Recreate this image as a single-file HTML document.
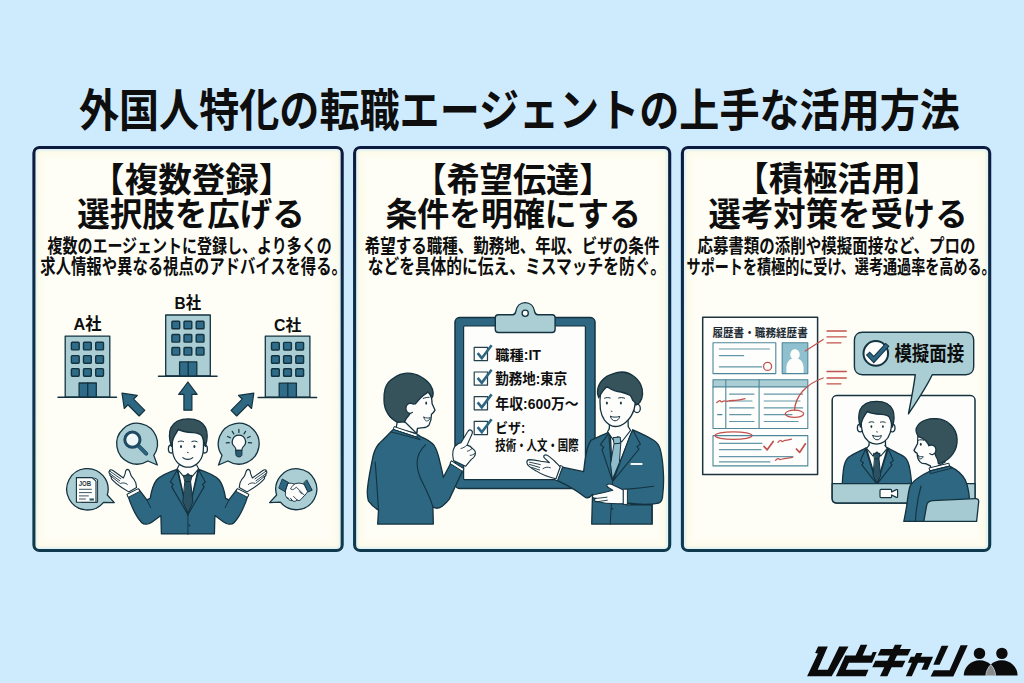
<!DOCTYPE html>
<html lang="ja">
<head>
<meta charset="utf-8">
<title>外国人特化の転職エージェントの上手な活用方法</title>
<style>
*{margin:0;padding:0;box-sizing:border-box}
html,body{width:1024px;height:683px;overflow:hidden;background:#ceebfe;font-family:"Liberation Sans","Noto Sans CJK JP",sans-serif}
#stage{position:relative;width:1024px;height:683px;background:#ceebfe}
.panel{position:absolute;top:146px;height:406px;background:#fefef7;border-radius:7px;box-shadow:inset 0 0 2px 5px rgba(222,241,247,.85),inset 0 0 7px 9px rgba(252,250,228,.9)}
#pn1{left:32.4px;width:311.4px}
#pn2{left:353px;width:318.3px}
#pn3{left:680.8px;width:310.5px}
#art{position:absolute;left:0;top:0;width:1024px;height:683px}
.t{position:absolute;color:transparent;white-space:nowrap;overflow:hidden;line-height:1;font-weight:bold;font-family:"Liberation Sans","Noto Sans CJK JP",sans-serif}
#txt text{font-family:"Liberation Sans","Noto Sans CJK JP",sans-serif;font-weight:bold;fill:#0e0e0e}
</style>
</head>
<body>
<div id="stage">
<header><h1 class="t" style="left:80.7px;top:88.2px;width:877.7px;height:43.4px;font-size:41.2px">外国人特化の転職エージェントの上手な活用方法</h1></header>
<section class="panel" id="pn1">
<h2 class="t" style="left:80.8px;top:16.6px;width:157.0px;height:32.3px;font-size:30.7px">【複数登録】</h2>
<h2 class="t" style="left:45.6px;top:51.8px;width:222.8px;height:31.6px;font-size:30.0px">選択肢を広げる</h2>
<p class="t" style="left:15.2px;top:90.2px;width:283.0px;height:18.4px;font-size:17.5px">複数のエージェントに登録し、より多くの</p>
<p class="t" style="left:8.3px;top:110.4px;width:296.3px;height:19.2px;font-size:18.2px">求人情報や異なる視点のアドバイスを得る。</p>
<span class="t" style="left:41.0px;top:170.4px;width:27.8px;height:14.9px;font-size:14.2px">A社</span>
<span class="t" style="left:46.4px;top:334.6px;width:12.4px;height:5.6px;font-size:5.3px">JOB</span>
<span class="t" style="left:142.3px;top:149.2px;width:26.3px;height:15.4px;font-size:14.6px">B社</span>
<span class="t" style="left:241.6px;top:172.0px;width:27.2px;height:14.6px;font-size:13.9px">C社</span>
</section>
<section class="panel" id="pn2">
<h2 class="t" style="left:82.3px;top:16.6px;width:155.3px;height:32.3px;font-size:30.7px">【希望伝達】</h2>
<h2 class="t" style="left:33.3px;top:51.8px;width:250.7px;height:31.6px;font-size:30.0px">条件を明確にする</h2>
<p class="t" style="left:12.1px;top:90.0px;width:293.7px;height:18.6px;font-size:17.7px">希望する職種、勤務地、年収、ビザの条件</p>
<p class="t" style="left:15.7px;top:110.6px;width:287.0px;height:19.0px;font-size:18.1px">などを具体的に伝え、ミスマッチを防ぐ。</p>
<span class="t" style="left:142.3px;top:201.6px;width:45.7px;height:13.2px;font-size:12.5px">職種:IT</span>
<span class="t" style="left:142.3px;top:225.7px;width:72.0px;height:14.0px;font-size:13.3px">勤務地:東京</span>
<span class="t" style="left:142.3px;top:250.2px;width:83.4px;height:13.8px;font-size:13.1px">年収:600万〜</span>
<span class="t" style="left:142.3px;top:274.9px;width:29.9px;height:13.1px;font-size:12.4px">ビザ:</span>
<span class="t" style="left:142.3px;top:291.8px;width:83.4px;height:14.0px;font-size:13.3px">技術・人文・国際</span>
</section>
<section class="panel" id="pn3">
<h2 class="t" style="left:76.3px;top:16.2px;width:160.4px;height:32.3px;font-size:30.7px">【積極活用】</h2>
<h2 class="t" style="left:28.4px;top:51.8px;width:254.4px;height:31.6px;font-size:30.0px">選考対策を受ける</h2>
<p class="t" style="left:16.9px;top:90.2px;width:276.5px;height:18.4px;font-size:17.5px">応募書類の添削や模擬面接など、プロの</p>
<p class="t" style="left:6.6px;top:110.6px;width:298.9px;height:19.0px;font-size:18.1px">サポートを積極的に受け、選考通過率を高める。</p>
<span class="t" style="left:31.6px;top:181.2px;width:95.4px;height:11.2px;font-size:10.6px">履歴書・職務経歴書</span>
<span class="t" style="left:213.6px;top:197.6px;width:69.9px;height:19.6px;font-size:18.6px">模擬面接</span>
</section>
<svg id="art" aria-hidden="true" width="1024" height="683" viewBox="0 0 1024 683">
<defs><linearGradient id="bd" x1="0" y1="146" x2="0" y2="552" gradientUnits="userSpaceOnUse"><stop offset="0" stop-color="#0c1b40"/><stop offset=".35" stop-color="#0e2c49"/><stop offset="1" stop-color="#0f3a4e"/></linearGradient></defs>
<g fill="none" stroke="url(#bd)" stroke-width="3.1"><rect x="33.9" y="147.5" width="308.3" height="403" rx="5.6"/><rect x="354.6" y="147.5" width="315.1" height="403" rx="5.6"/><rect x="682.4" y="147.5" width="307.3" height="403" rx="5.6"/></g>
<g id="p1" stroke="#14323f" stroke-width="1.3" stroke-linejoin="round" stroke-linecap="round" fill="none">
<defs><g id="bld"><rect x="0.7" y="0.7" width="44.6" height="61" fill="#aaced4"/><rect x="6.9" y="6.9" width="7.8" height="7.6" rx=".9" fill="#2e6c8a" stroke-width="1.4"/><rect x="19.0" y="6.9" width="7.8" height="7.6" rx=".9" fill="#2e6c8a" stroke-width="1.4"/><rect x="31.2" y="6.9" width="7.8" height="7.6" rx=".9" fill="#2e6c8a" stroke-width="1.4"/><rect x="6.9" y="20.2" width="7.8" height="7.6" rx=".9" fill="#2e6c8a" stroke-width="1.4"/><rect x="19.0" y="20.2" width="7.8" height="7.6" rx=".9" fill="#2e6c8a" stroke-width="1.4"/><rect x="31.2" y="20.2" width="7.8" height="7.6" rx=".9" fill="#2e6c8a" stroke-width="1.4"/><rect x="6.9" y="33.2" width="7.8" height="7.6" rx=".9" fill="#2e6c8a" stroke-width="1.4"/><rect x="19.0" y="33.2" width="7.8" height="7.6" rx=".9" fill="#2e6c8a" stroke-width="1.4"/><rect x="31.2" y="33.2" width="7.8" height="7.6" rx=".9" fill="#2e6c8a" stroke-width="1.4"/><rect x="14.6" y="47.6" width="17.2" height="14.2" fill="#2e6c8a"/><path d="M23.2 47.6V61.8"/><path d="M-6.5 61.9H52" stroke-width="1.5"/></g><path id="arw" d="M0 0L9.2 12.4H4V28.2H-4V12.4H-9.2Z" fill="#2d6781" stroke-width="1.2"/></defs>
<use href="#bld" x="64.5" y="335.4"/><use href="#bld" x="165" y="314.3"/><use href="#bld" x="264.6" y="335.5"/>
<use href="#arw" transform="translate(187.9 382)"/>
<use href="#arw" transform="translate(122 393.2) rotate(-45)"/>
<use href="#arw" transform="translate(253.8 393.2) rotate(45)"/>
<path d="M153.8 455.4L157.3 465.0L147.9 461.0A20.4 20.4 0 1 1 153.8 455.4Z" fill="#aaced4"/>
<path d="M227.9 461.0L218.5 465.0L222.0 455.4A20.4 20.4 0 1 1 227.9 461.0Z" fill="#aaced4"/>
<path d="M107.3 495.0L114.3 502.6L103.5 502.3A20.7 20.7 0 1 1 107.3 495.0Z" fill="#aaced4"/>
<path d="M280.4 502.2L269.6 502.6L276.6 495.0A20.5 20.5 0 1 1 280.4 502.2Z" fill="#aaced4"/>
<path d="M138 445.4L146.2 453.6" stroke="#1d4a62" stroke-width="4"/><path d="M138 445.4L146.2 453.6" stroke="#2d6781" stroke-width="2.2"/><circle cx="132.4" cy="439.7" r="7.6" fill="#eef6f7" stroke="#1d4a62" stroke-width="3"/><path d="M128.2 438.2A4.6 4.6 0 0 1 131.6 435.2" stroke="#fff" stroke-width="1.2"/>
<path d="M238.9 435.2a6.6 6.6 0 0 1 4.2 11.7c-.9.9-1.2 2-1.2 3.4h-6c0-1.4-.3-2.5-1.2-3.4a6.6 6.6 0 0 1 4.2-11.7Z" fill="#fdfdfb" stroke-width="1.2"/><path d="M235.9 450.3h6v4.4c0 1.3-1.2 2.2-3 2.2s-3-.9-3-2.2Z" fill="#2d5c70" stroke-width="1"/>
<path d="M238.9 432.4L238.9 429.4M244.0 433.9L245.6 431.3M233.8 433.9L232.2 431.3M247.5 437.8L250.2 436.5M230.3 437.8L227.6 436.5M248.5 442.7L251.5 442.9M229.3 442.7L226.3 442.9" stroke-width="1.2"/>
<path d="M79.4 478.2h15.2l3 1.4v22.8H81.8Z" fill="#fdfdfb" stroke-width="1"/><path d="M76.4 477.6h15.6l4 3.6v21H76.4Z" fill="#fdfdfb" stroke-width="1.1"/><path d="M79.4 489.3h12M79.4 492.6h12M79.4 495.9h9M79.4 499h6" stroke-width="1" stroke="#3a5563"/><path d="M89.5 498.4h4.4v2.2h-4.4Z" fill="#2d5c70" stroke="none"/>
<path d="M282.6 479.2L288.6 482.6L285 491.6L279.200 488.300Z" fill="#2d6781" stroke-width="1"/>
<path d="M306.900 480.200L312.200 490.200L307.800 492L303.800 483.400Z" fill="#2d6781" stroke-width="1"/>
<path d="M288.200 483.400C290.500 483 292.500 483.200 294.200 484.200C296.500 483 299.500 482.800 302 483.600L304.200 484.400L307.600 491.600C306.800 493.200 305.800 494.400 304.600 495.400L300.800 499.600C299.600 500.800 298.200 500.800 297.200 500L295.600 501C294.400 501.600 293.200 501.400 292.400 500.600L290.800 500.400C289.600 500.400 288.800 499.800 288.400 498.800C287.200 498.600 286.400 497.800 286.200 496.600C285.400 495.800 285.200 494.800 285.600 493.800L285.400 491.400Z" fill="#fdfdfb" stroke-width="1"/><path d="M294.200 484.200C292.600 485.600 291.400 487.200 290.600 489C291.800 490 293.400 489.800 294.600 488.600L296.400 487.200L304.600 495.400M297.200 500L293.600 496.400M292.400 500.600L290.400 498.200M288.400 498.800L287.600 497.400M299.400 491.600L301.800 494" stroke-width=".9"/>
</g><g id="p1man" stroke="#14323f" stroke-width="1.3" stroke-linejoin="round" stroke-linecap="round" fill="none">
<path d="M180.4 461V474H195.4V461Z" fill="#fdfdfb"/>
<path d="M178 469.5L187.9 479.5L197.8 469.5L200 500H176Z" fill="#fdfdfb" stroke="none"/>
<path d="M177.6 469.2 C168 472.5 160 476 156.6 480 C152.8 485 151.2 492 150.2 498.4 L146.9 499.9 L138.7 489.2 L127.5 494.6 C130.5 504 136 516.5 141.8 522.8 C144.5 525.2 149 524.2 152.2 522 L160.9 515.6 L161.4 533.9 L187.9 533.9 L187.9 514.6 Z" fill="#2d6781"/>
<path d="M198.2 469.2C207.8 472.5 215.8 476 219.2 480C223 485 224.6 492 225.6 498.4L228.9 499.9L237.1 489.2L248.3 494.6C245.3 504 239.8 516.5 234 522.8C231.3 525.2 226.8 524.2 223.6 522L214.9 515.6L214.4 533.9L187.9 533.9L187.9 514.6Z" fill="#2d6781"/>
<path d="M187.9 515.6V533.2" stroke="#2d6781" stroke-width="2.6" stroke-linecap="butt"/>
<path d="M187.9 514.6V533.9" stroke="#14323f" stroke-width=".9"/>
<path d="M177.6 469.2 L170.4 482 L173.4 484.6 L171.6 486.6 L187.9 514.6 L177.4 471 Z" fill="#2d6781" stroke-width="1.1"/>
<path d="M198.2 469.2L205.4 482L202.4 484.6L204.2 486.6L187.9 514.6L198.4 471Z" fill="#2d6781" stroke-width="1.1"/>
<path d="M179.400 464.600L177.200 468.800L184.200 477.200L187.900 473.600L191.600 477.200L198.600 468.800L196.400 464.600" fill="#fdfdfb" stroke-width="1.1"/>
<path d="M183.8 475.4H192L190.6 481.6H185.2Z" fill="#2b5263" stroke-width="1"/>
<path d="M185.2 481.6H190.6L192.9 502L187.9 513.2L182.9 502Z" fill="#2b5263" stroke-width="1"/>
<circle cx="189.4" cy="525.4" r=".9" fill="#14323f" stroke="none"/>
<path d="M146.9 499.9L150.6 507.6" stroke-width="1"/><path d="M228.9 499.9L225.2 507.6" stroke-width="1"/>
<path d="M127.2 494.2 L138.4 488.6 L139.8 491.4 L128.6 497.2 Z" fill="#fdfdfb" stroke-width="1"/>
<path d="M248.6 494.2L237.4 488.6L236 491.4L247.2 497.2Z" fill="#fdfdfb" stroke-width="1"/>
<path d="M128.7 491.9 L121.7 487.5 C118 485 114.6 482.2 112.4 479.8 C111 478.8 110.8 477.4 111.8 476.8 C110 476.200 109.200 474.800 110.200 473.900 C108.800 473.200 108.400 471.800 109.600 471 C109.600 469.800 111 469.400 112.600 470.200 L123.400 478 L125.200 473.600 C125.400 471 126.200 469.600 127.400 469.400 C128.800 469.400 129.600 470.600 130.200 473 L131.400 476.200 C133 478 135 480.400 135.800 482.800 L136.600 487.600 Z" fill="#fdfdfb" stroke-width="1.1"/>
<path d="M111.800 476.800 L119.400 482.800 M110.200 473.900 L119.800 480.800 M109.600 471 L120.800 478.800 M120.600 483.400 C123 482.400 125.600 482.800 127.400 484.400" stroke-width=".9"/>
<path d="M247.1 491.9L254.1 487.5C257.8 485 261.2 482.2 263.4 479.8C264.8 478.8 265 477.4 264 476.8C265.8 476.2 266.6 474.8 265.6 473.9C267 473.2 267.4 471.8 266.2 471C266.2 469.8 264.8 469.4 263.2 470.2L252.4 478L250.6 473.6C250.4 471 249.6 469.6 248.4 469.4C247 469.4 246.2 470.6 245.6 473L244.4 476.2C242.8 478 240.8 480.4 240 482.8L239.2 487.6Z" fill="#fdfdfb" stroke-width="1.1"/>
<path d="M264 476.8L256.4 482.8M265.6 473.9L256 480.8M266.2 471L255 478.8M255.2 483.4C252.8 482.4 250.2 482.8 248.4 484.4" stroke-width=".9"/>
<ellipse cx="171.200" cy="449" rx="2.800" ry="4" fill="#fdfdfb"/><ellipse cx="204.600" cy="449" rx="2.800" ry="4" fill="#fdfdfb"/>
<path d="M172.4 440 C172.2 445 172.200 449 172.800 453 C173.600 457.500 175.500 460.800 178.400 463.400 C181.500 466 185 467.200 187.900 467.200 C190.800 467.200 194.300 466 197.400 463.400 C200.300 460.800 202.200 457.500 203 453 C203.600 449 203.600 445 203.400 440 C203 430 196 425.500 187.900 425.500 C179.800 425.500 172.800 430 172.400 440 Z" fill="#fdfdfb"/>
<path d="M171.4 446.4 C169.400 440 168.400 433 171 427.600 C174 421.600 181 418.800 188.400 418.800 C196 418.800 202.600 421.600 205.400 427.400 C207.800 432.400 207.400 440 205.400 446.400 C204.200 442 203.600 438.800 201.800 435.800 C199.600 433.600 196.400 432.800 193 432.600 C188 432.400 182.400 432 178.400 429.400 C176.800 432.400 174.600 435 173.400 438.400 C172.400 441.400 172 444 171.400 446.400 Z" fill="#36525a"/>
<ellipse cx="181" cy="446.4" rx="1" ry="1.5" fill="#14323f" stroke="none"/><ellipse cx="194.4" cy="446.4" rx="1" ry="1.5" fill="#14323f" stroke="none"/>
<path d="M178.200 441.800C179.800 440.800 182 440.800 183.600 441.600M191.800 441.600C193.400 440.800 195.600 440.800 197.200 441.800" stroke-width="1"/>
<path d="M187.400 452.400L188.200 452.600" stroke-width=".9"/>
<path d="M182.800 457.600C185.600 460 190 460 192.800 457.600" stroke-width="1.1"/>
</g>
<g id="p2" stroke="#14323f" stroke-width="1.3" stroke-linejoin="round" stroke-linecap="round" fill="none">
<rect x="455" y="317.6" width="140" height="170.8" rx="4.5" fill="#2d6781" stroke-width="1.5"/>
<rect x="463.6" y="326" width="121.8" height="153.6" rx="1" fill="#fdfdfb" stroke-width="1.2"/>
<path d="M498.3 314.8H512.6C514.8 314.8 515.4 313.6 515.8 311.4C516.6 306 520.4 302.6 525.2 302.6C530 302.6 533.8 306 534.6 311.4C535 313.600 535.600 314.800 537.800 314.800H552.100C554 314.800 555.100 316 555.100 317.800V329.600C555.100 331.400 554 332.500 552.100 332.500H498.300C496.400 332.500 495.300 331.400 495.300 329.600V317.800C495.300 316 496.400 314.800 498.300 314.800Z" fill="#aaced4" stroke-width="1.4"/>
<circle cx="525.2" cy="313.2" r="3.1" fill="#fdfdfb" stroke-width="1.3"/>
<rect x="474.2" y="347.4" width="13.3" height="13.2" fill="#fdfdfb" stroke-width="1.2" stroke="#24404d"/>
<path d="M477.6 353.2L481.8 358.2L491.6 345.2" stroke="#2c6683" stroke-width="2.6" stroke-linecap="butt" stroke-linejoin="miter"/>
<rect x="474.2" y="372.0" width="13.3" height="13.2" fill="#fdfdfb" stroke-width="1.2" stroke="#24404d"/>
<path d="M477.6 377.8L481.8 382.8L491.6 369.8" stroke="#2c6683" stroke-width="2.6" stroke-linecap="butt" stroke-linejoin="miter"/>
<rect x="474.2" y="396.6" width="13.3" height="13.2" fill="#fdfdfb" stroke-width="1.2" stroke="#24404d"/>
<path d="M477.6 402.4L481.8 407.4L491.6 394.4" stroke="#2c6683" stroke-width="2.6" stroke-linecap="butt" stroke-linejoin="miter"/>
<rect x="474.2" y="421.4" width="13.3" height="13.2" fill="#fdfdfb" stroke-width="1.2" stroke="#24404d"/>
<path d="M477.6 427.2L481.8 432.2L491.6 419.2" stroke="#2c6683" stroke-width="2.6" stroke-linecap="butt" stroke-linejoin="miter"/>
<path d="M397.6 420L396 428.6L416.6 433.4L417.600 426Z" fill="#fdfdfb"/>
<path d="M393.7 429.3 C389 433.500 385.300 437.700 381.500 441.200 C377.500 444.500 374.800 449 373.200 455.500 C371 466 368.600 478 367.600 487.400 C367 493 367.400 497.500 368.400 500.800 C371 504.500 375 508 378.500 510.100 L377.700 524.100 L433.300 524.100 L432.900 506.900 C435.500 508.600 439.500 508.400 442.500 505.900 C445 504 447.500 501.500 449.300 499.100 L463.600 468.800 L451.800 461.300 L443.400 477.300 C442 470 440.500 465 439.200 459 C437.800 453 436.500 449 434.100 445.500 C431 441.500 426 438.800 420.600 436.600 L417.300 434.300 Z" fill="#2d6781"/>
<path d="M394.5 426.7L417.3 434.3L416.9 437.2L393.7 429.6Z" fill="#fdfdfb" stroke-width="1"/>
<path d="M393.7 429.6L416.900 437.200L420.600 439.800C412 437.500 400 434 391.200 432Z" fill="#2d6781" stroke-width="1"/>
<path d="M425.700 444.600C420 450 417.300 456 417.100 462C417 469 419 476 422.500 482.500C426 489.500 430 497 432.900 506.900" stroke-width="1.1"/>
<path d="M375.200 462.100C376.500 478 377.500 495 378.500 510.100" stroke-width="1.1"/>
<path d="M451.600 461L463.900 468.800L462.600 471.400L450.300 463.600Z" fill="#fdfdfb" stroke-width="1"/>
<path d="M453.500 460.400 C452.600 457 452.400 453.500 453.100 450.300 C454 447.500 456 445 458.500 443.600 L461 442.700 L467.600 431.800 C468.500 430.200 470 429.600 471.200 430.200 C472.500 431 472.700 432.400 472 434 L467.100 445.100 C469.500 445.600 471.300 446.800 472.400 448.600 C474.500 449.800 475.600 451.600 475.400 453.700 C475.200 456 473.500 458 471.100 459.600 L465.500 466.300 Z" fill="#fdfdfb" stroke-width="1.1"/>
<path d="M466.900 445.300C465 447 463 448 461 448.500M472 448.600C470.500 450 469 450.800 467.400 451.200M475 453.400C473.400 454.600 471.800 455.200 470.200 455.400" stroke-width=".9"/>
<path d="M428 391.500 C430.500 394 432 398 432.100 403.700 L435 410.100 C434 412 433 413 431.500 414.200 C431.500 418 430.800 421.500 429.100 424.800 C427.500 426.800 425.500 427.700 423.300 427.700 L417.400 428.300 L416.600 433.400 L404 421 L408 400 Z" fill="#fdfdfb"/>
<path d="M397.500 422.400 C393 420 389.800 417 388.100 414.200 C385.500 410 384 405 384 400.200 C383.800 396 384.200 392 385.200 388.400 C387 383.500 390 380 394 377.900 C398 375 402.500 373.400 406.900 373.200 C412 373 417 374.500 420.900 376.700 C425 379 428.500 381.800 430.300 384.900 C432 387.500 433 390.500 433.200 393.100 C433.200 395 432.800 396.500 432.100 397.800 C431.200 395.500 429.800 393.500 428 392 C426.500 393.500 425 394.500 423.300 395.500 C421.500 397 420 398.500 418.600 400.200 C417.200 402 415.800 403.500 414.500 404.800 L411.500 404.400 L410.400 413 C409.500 414.800 408.200 416.300 406.900 417.700 C406 419.200 405.200 420.600 404.500 421.800 Z" fill="#36525a"/>
<path d="M413.600 404.200C411 402.600 407.600 403.200 406.400 406C405.200 409 406.400 412.200 409.200 413.200C410.600 413.600 411.600 413.200 412.400 412.400L416 410L416.500 405Z" fill="#fdfdfb" stroke="none"/>
<path d="M413.600 404.200C411 402.600 407.600 403.200 406.400 406C405.200 409 406.400 412.200 409.200 413.200C410.600 413.600 411.600 413.200 412.400 412.400" stroke-width="1.200"/>
<ellipse cx="426.200" cy="403.100" rx=".9" ry="1.600" fill="#14323f" stroke="none"/>
<path d="M423.300 398.400C425 397.600 427.200 397.400 429.100 397.300" stroke-width="1"/>
<path d="M423.900 417.200C426 418.200 428.300 418.300 430.300 417.600C429.800 419.800 428.300 421 426.400 421C425 420.500 424.200 419 423.900 417.200Z" fill="#fff" stroke-width=".9"/>
<path d="M609.600 420L609.200 433L628.400 433L628 418Z" fill="#fdfdfb"/>
<path d="M607 430L634 428L626 470L612 482L604 450Z" fill="#fdfdfb" stroke="none"/>
<path d="M610.200 431.400 C604 434.500 597 437.500 590.900 440.300 C588.500 444 587 449 586.100 454 C585 460 584.200 466 583.600 471.700 L562.400 467.200 L557.400 480.600 C566 484.500 576 490 584.500 496.700 C587 498.600 590 497.500 592.500 494.300 L591.700 524.100 L652.100 524.100 L652.100 504.600 L626.600 504.800 L626.600 503 C637 504.500 650 504.800 658.600 503.200 C661.500 501.500 662.600 499 662.600 495.900 C663.600 488 663.800 480 663.400 473.300 C663 464 662 456 660.200 449.200 C658.800 444.800 656.500 442 653.700 440.300 C647 436 640 432.800 632.800 429.800 L612.700 480.600 Z" fill="#2d6781"/>
<path d="M610.200 431.400L600.400 444.600L603.800 447.200L602 449.600L612.200 480.200L609 436Z" fill="#2d6781" stroke-width="1.1"/>
<path d="M632.800 429.800L640.400 444.200L637 446.600L639 449L613.400 480.600L629.600 436.600Z" fill="#2d6781" stroke-width="1.1"/>
<path d="M609.400 428.600L607.600 431.600L614 441L617.800 436.600L621.600 442L630.600 430.400L628.200 426.600" fill="#fdfdfb" stroke-width="1.1"/>
<path d="M613.400 437.600L620.200 437L620.800 443.200L614.400 443.800Z" fill="#8fbccb" stroke-width="1"/>
<path d="M614.400 443.800L620.800 443.200L619.400 462.500L612.400 479.200L610.600 464.500Z" fill="#8fbccb" stroke-width="1"/>
<path d="M631.400 463.900H641.600" stroke="#f4f8f8" stroke-width="2"/>
<path d="M612.700 480.600C612 495 611 510 610.200 524.100" stroke-width="1"/>
<circle cx="612.600" cy="508.800" r=".8" fill="#14323f" stroke="none"/>
<path d="M624.700 489.400C634 488.600 645 487.400 653.700 486.200" stroke-width="1.1"/>
<path d="M652.100 504.600V524.100" stroke-width="1.1"/>
<path d="M562.600 466.800L557.400 480.800L554.800 479.800L560 465.800Z" fill="#fdfdfb" stroke-width="1"/>
<path d="M560.200 467 C558 464.800 556.500 463 555 461.500 C553 459.600 551 458 549 456.400 C547.500 455.200 545.600 454.600 544.400 455.200 C543.400 456 543.600 457.200 544.600 458.200 L549.400 462.600 C546 462 543 461.500 540.900 461.300 C537 460.500 533 459.800 529.700 459.600 C528 459.600 526.800 460.600 526.800 462.400 C527 464 527.800 465.200 528.900 466.100 C531 467.800 533.500 469.500 536.100 470.900 C539 472.800 542.500 474.500 545.800 475.800 C549.500 477.200 553 478.200 556 478.800 Z" fill="#fdfdfb" stroke-width="1.1"/>
<path d="M529.600 462.200L540.400 464.600M529.400 464.400L539.600 467.400M531.600 467.400L539.600 470M543 468.600C545.400 467 548 466.800 550.400 467.800" stroke-width=".9"/>
<path d="M623.200 489.200H627.400V504.400H623.200Z" fill="#fdfdfb" stroke-width="1"/>
<path d="M623.200 490 C620 488.500 616.500 486.500 613.500 485.200 C611 484 608.500 483.800 607.200 484.600 C606.400 485.600 607 486.800 608.600 487.600 L612.800 490.200 C608 491.500 602 493 596 494.200 C593.500 494.600 592.200 495.400 592.400 496.600 C592.600 497.800 594 498.400 596.200 498.400 C594.500 498.800 593.800 499.600 594.200 500.600 C594.800 501.600 596.200 501.800 598 501.600 C600 502.400 603 503 606 503.200 C611 503.600 617 503.800 623.200 503.600 Z" fill="#fdfdfb" stroke-width="1.100"/>
<path d="M596.200 498.400L607 497.200M598 501.600L607.400 500.200" stroke-width=".9"/>
<ellipse cx="637" cy="408.400" rx="3.300" ry="4.200" fill="#fdfdfb"/>
<path d="M600.600 392 C599.800 398 599.800 404 600.400 409.500 C601.200 414 602.600 417.500 604.500 420.100 C607.500 424 611 426.500 615.100 426.500 C619.500 426.500 623 424.500 625.600 422.400 C628.500 420 630.500 417.500 631.500 415.400 C633.500 412 635 407 635.400 402 L634 388 L615 382 L603 385 Z" fill="#fdfdfb"/>
<path d="M598.700 397.800 C597.600 395.500 597.200 393 597.500 390.800 C598 386.500 599.600 383 602.200 380.200 C605 377 608.500 375 612.700 373.800 C616 372.600 619 372 622.100 372 C626 372.200 629.800 373.400 632.700 375.500 C636.500 378 639.200 381.200 640.900 384.900 C642.300 388 642.800 391 642.600 394.300 C642.400 397.500 641.400 400.200 639.700 402.500 C638.600 403.600 637.400 404.400 636.200 404.800 C635.600 403 634.400 401.500 632.700 400.200 C632 398.500 631.200 397 630.300 395.500 C627.500 394 624.300 392.800 620.900 392 C619 391.700 617 391.300 615.100 390.800 C612.200 389.800 609.400 388.400 606.900 386.700 C605 388.400 603.400 390.200 602.200 392 C600.800 393.800 599.600 395.800 598.700 397.800 Z" fill="#36525a"/>
<ellipse cx="606.900" cy="403.100" rx="1" ry="1.500" fill="#14323f" stroke="none"/><ellipse cx="620.900" cy="403.100" rx="1" ry="1.500" fill="#14323f" stroke="none"/>
<path d="M604.500 398.200C606.200 397.400 608.400 397.400 610.200 398M618.600 398C620.400 397.400 622.800 397.400 624.600 398.200" stroke-width="1"/>
<path d="M611.200 411.200L612 411.400" stroke-width=".9"/>
<path d="M610.400 416.400C613.400 417.400 616.800 417.400 619.800 416.400C619 419.400 617.200 420.800 615.100 420.800C613 420.800 611.200 419.400 610.400 416.400Z" fill="#fff" stroke-width="1"/>
</g>
<g id="p3" stroke="#14323f" stroke-width="1.3" stroke-linejoin="round" stroke-linecap="round" fill="none">
<rect x="702.7" y="317.2" width="114.9" height="157.4" fill="#fefefc" stroke-width="1.5" stroke="#1d3440"/>
<rect x="713" y="342.8" width="62.8" height="30.8" fill="none" stroke="#4d8799" stroke-width="1.1"/>
<path d="M719.4 349H769.4M719.4 355.600H743.700M719.400 366.900H761.700" stroke="#6497a8" stroke-width="1.200"/>
<rect x="782.2" y="342.8" width="25.6" height="30.8" fill="#8fc0cf" stroke="#4d8799" stroke-width="1.100"/>
<path d="M795 349.200a4.600 5.200 0 0 1 2.800 9.400c3.600 1.200 5.600 4.400 5.800 8.600v5.800h-17.200v-5.800c.200-4.200 2.200-7.400 5.800-8.600a4.600 5.200 0 0 1 2.800-9.400Z" fill="#fdfdfb" stroke="none"/>
<rect x="713" y="379.7" width="94.8" height="7.2" fill="#aaced4" stroke="none"/>
<rect x="713" y="379.7" width="94.8" height="48.8" fill="none" stroke="#4d8799" stroke-width="1.100"/>
<path d="M725.800 379.700V428.500M759.100 379.700V428.500M713 386.900H807.800" stroke="#4d8799" stroke-width="1.100"/>
<path d="M729.600 394.1H754.0M764.200 394.1H802.6M729.600 401.0H752.0M764.200 401.0H800.0M729.600 407.9H754.0M764.200 407.9H802.6M729.600 414.6H751.0M764.200 414.6H792.0M729.600 421.5H754.0M764.200 421.5H798.0" stroke="#6497a8" stroke-width="1.200"/>
<path d="M717.600 414.600H721.900" stroke="#4d8799" stroke-width="1.200"/>
<rect x="713" y="435.6" width="94.8" height="30.3" fill="none" stroke="#4d8799" stroke-width="1.100"/>
<path d="M719.400 443.300H762M719.400 449.700H761M719.400 456.700H793M719.400 461.800H770" stroke="#6497a8" stroke-width="1.200"/>
<g stroke="#c2524e" stroke-width="1.300">
<circle cx="767.600" cy="366.400" r="4"/>
<path d="M805.300 351L823.200 339.500M827 331H846.300M827 336.900H846.300M827 342.800H841"/>
<ellipse cx="794.500" cy="413.800" rx="9.200" ry="3.600"/>
<path d="M794.500 410.200C795.500 396 806 384 823.200 378M827 371.500H846.300M827 378H846.300M827 383.800H841"/>
<ellipse cx="733.500" cy="435.600" rx="18.500" ry="3.800"/>
<path d="M716.800 402.600c2-1.800 3.200-2.600 4-1.200c1 1.400 2.400-.800 3.600-.600c1.400.200 2 1 3.400.400c2.400-.800 5.600-.600 8.200-.800c3.200-.400 6.400-1 9-1.800"/>
<path d="M764 446.400l3.200 3.400l6-8.400M796.400 449l3.200 3.400l5.800-8.600" stroke-width="1.700"/>
<path d="M778 442.400c1.600-2 2.800-2.600 3.400-1.400c.800 1.400 2.200-.400 3.400-.600c2.200-.400 4.400-.600 6.600-1.200M775.600 460.400c1.600-1.800 3-2.400 3.600-1.200c.800 1.200 2.400-.400 3.600-.400c2.600-.200 6-.600 9.600-1.400"/>
</g>
<rect x="832.2" y="395.6" width="142.8" height="107.400" rx="4.500" fill="#fdfdfb" stroke-width="1.500"/>
<path d="M869.200 441L868.800 452H885.800L885.400 441Z" fill="#fdfdfb"/>
<path d="M866.500 449L877.200 459L888 449L890 484H864Z" fill="#fdfdfb" stroke="none"/>
<path d="M866.200 447.800C860 451 853 454 848.500 457.200C845.500 460 844 465 843.400 470C842.800 475 842.400 480 842.300 483.600H911.500C911.400 480 910.800 475 910 470C909.200 465 907.800 460 904.800 457.200C900 454 893 451 887.600 447.800L877 483.600Z" fill="#2d6781"/>
<path d="M866.200 447.800L860.400 460.600L863.400 462.800L861.800 464.800L876.600 483.600L866 450Z" fill="#2d6781" stroke-width="1.100"/>
<path d="M887.600 447.800L893.400 460.600L890.400 462.800L892 464.800L877.400 483.600L887.800 450Z" fill="#2d6781" stroke-width="1.100"/>
<path d="M869 445.400L866.600 448.400L873 456L876.900 452L880.800 456L887.200 448.400L884.800 445.400" fill="#fdfdfb" stroke-width="1.100"/>
<path d="M873.800 453.400H880L879 458.800H874.800Z" fill="#2b5263" stroke-width="1"/>
<path d="M874.800 458.800H879L880.600 476L876.900 483L873.200 476Z" fill="#2b5263" stroke-width="1"/>
<ellipse cx="860.200" cy="428" rx="2.800" ry="3.800" fill="#fdfdfb"/><ellipse cx="892.200" cy="428" rx="2.800" ry="3.800" fill="#fdfdfb"/>
<path d="M861.200 420C860.800 431 864 438 868.500 441.600C871.500 443.800 874.500 444.200 876.500 444.200C878.500 444.200 881.500 443.800 884.500 441.600C889 438 892 431 891.600 420C891 411 884 406 876.500 406C869 406 861.800 411 861.200 420Z" fill="#fdfdfb"/>
<path d="M860.400 427C858.600 421 858 415 860 410C862.600 404 869 401.300 876.400 401.300C884 401.300 890.200 404 892.800 410C894.800 415 894.200 421 892.400 427C891.400 423 890.800 420 889.400 417.200C887.400 415.200 884.400 414.600 881.200 414.400C876.400 414.200 871 413.800 867.200 411.400C865.600 414.200 863.600 416.600 862.400 419.800C861.400 422.600 861 425 860.400 427Z" fill="#36525a"/>
<ellipse cx="871.400" cy="426.600" rx=".9" ry="1.400" fill="#14323f" stroke="none"/><ellipse cx="882.900" cy="426.600" rx=".9" ry="1.400" fill="#14323f" stroke="none"/>
<path d="M869 422.400C870.400 421.600 872.400 421.600 873.800 422.200M880.400 422.200C881.800 421.600 883.800 421.600 885.200 422.400" stroke-width="1"/>
<path d="M876.600 431.800L877.400 432" stroke-width=".9"/>
<path d="M872.800 435.600C875.400 436.600 878.800 436.600 881.400 435.600C880.600 438.600 879 439.800 877.100 439.800C875.200 439.800 873.600 438.600 872.800 435.600Z" fill="#fff" stroke-width="1"/>
<path d="M832.200 483.600H975V498.500C975 501.500 973.500 503 970.500 503H836.700C833.700 503 832.200 501.500 832.200 498.500Z" fill="#aaced4" stroke-width="1.400"/>
<path d="M881 489.400H890.600C891.200 489.400 891.600 489.800 891.600 490.400V492L896.400 489.600C897 489.300 897.600 489.600 897.600 490.400V496.600C897.600 497.400 897 497.700 896.400 497.400L891.600 495V496.600C891.600 497.200 891.200 497.600 890.600 497.600H881C880.400 497.600 880 497.200 880 496.600V490.400C880 489.800 880.400 489.400 881 489.400Z" fill="#fdfdfb" stroke-width="1.200"/>
<path d="M862.400 332.300H965.700C970.500 332.300 973.700 335.500 973.700 340.300V366.700C973.700 371.500 970.500 374.700 965.700 374.700H932.200C926 388 917 401 908.500 413.800C911 401 913.600 388 915.300 374.700H862.400C857.600 374.700 854.400 371.500 854.400 366.700V340.300C854.400 335.500 857.600 332.300 862.400 332.300Z" fill="#aaced4" stroke-width="1.400"/>
<circle cx="875.800" cy="353.400" r="12.300" fill="#fdfdfb" stroke-width="2"/>
<path d="M867.800 353.200L873.800 359.600L887.600 344.600" stroke="#14323f" stroke-width="5.200" stroke-linecap="butt" stroke-linejoin="miter"/><path d="M868.400 353.800L873.800 359.600L887 345.200" stroke="#2c6683" stroke-width="3.400" stroke-linecap="butt" stroke-linejoin="miter"/>
<path d="M919 432.500C917.600 436 917.400 440 917.600 443.500L914 450.400C914.800 452 915.800 452.800 917.200 453.400C917.200 456.500 918 459.600 919.800 461.600C921.400 463.400 923.400 464 925.600 463.600L930.400 465.800L931 470L945 462L942 440L925 430Z" fill="#fdfdfb"/>
<path d="M929.400 467.900L948.900 463.200L949.600 466.200L930.200 471Z" fill="#fdfdfb" stroke-width="1"/>
<path d="M918.200 436.500C916.400 433.500 915.600 431 916.200 428.500C917.500 424.500 921 421.500 925.500 420C929 418.800 933 418.400 936.600 418.700C941.500 419 946.500 421 950.300 424.500C954.200 428 956.800 433 957.100 439.200C957.300 444 956 449 953.500 453C951 457 947.500 460 943 462.200L938.400 463.800C938.200 461 937.400 458.500 936 456.500L934.600 452.800L931.800 453.200C930.600 451.600 930 449.800 929.800 447.800C929 445 927.500 442.500 925.500 440.500C923 438.500 920.500 437 918.200 436.500Z" fill="#36525a"/>
<path d="M928.600 445.800C931 444.400 934.200 445 935.400 447.600C936.600 450.400 935.600 453.400 933 454.400C931.600 454.800 930.600 454.400 929.800 453.600L926.500 451L926 446.500Z" fill="#fdfdfb" stroke="none"/>
<path d="M928.600 445.800C931 444.400 934.200 445 935.400 447.600C936.600 450.400 935.600 453.400 933 454.400C931.600 454.800 930.600 454.400 929.800 453.600" stroke-width="1.200"/>
<ellipse cx="920.800" cy="444.300" rx=".9" ry="1.500" fill="#14323f" stroke="none"/>
<path d="M918.400 440.200C920 439.600 922 439.600 923.600 440.200" stroke-width="1"/>
<path d="M918.400 455.800C920 456.800 921.600 457 923.200 456.600C922.600 458.400 921.400 459.200 920 458.800C919 458.200 918.600 457 918.400 455.800Z" fill="#fff" stroke-width=".9"/>
<path d="M930.200 471C926 473 922.500 474.800 919.500 477C915 480 911.800 483 910 486.300C908.400 492 907.600 498 906.900 504.700C906 510 905 516 903.800 521.400L970.600 521.400C970.400 513 970 505 969.400 498.600C968.800 491 967.500 485 965.300 480.100C962.500 474.500 957.500 470 950.900 466.800L949.600 466.200Z" fill="#2d6781"/>
<path d="M930.200 471L949.600 466.200L951.400 468.400C944 470 937 472 930.800 473.600Z" fill="#2d6781" stroke-width="1"/>
<path d="M921 486C918 497 916 509 915.400 521.400" stroke-width="1.100"/>
<path d="M932.500 500.600L975.500 498.600C977.500 498.500 978.800 499.600 978.700 501.600L976.600 521.400H923.800L926.600 505.600C927.200 502.600 929.500 500.800 932.500 500.600Z" fill="#a6cad1" stroke-width="1.300"/>
</g>
<g id="logo" fill="#0b0b0b">
<path d="M818.100 646.600H827.800L817.700 669.700H827.800L839.200 646.600H848.500L831.700 676.300H807.100L817.900 653.500L815.100 653.100Z"/>
<path d="M860.600 644.700H867.300L862.600 655.600H871.200L872.750 652.100H876.700L872 662.700H848.900L845.800 669.700H868.500L865.700 676.300H835.900L845.250 655.600H855.600Z"/>
<path d="M894.900 644.700H901.900L887.400 676.300H880Z"/>
<path d="M880.800 649H910.900L907.750 655.600H877.700Z"/>
<path d="M875.300 660.700H905.400L902.300 667.300H872.200Z"/>
<path d="M916.300 652.900H922.400L911.800 676.300H905.800Z"/>
<path d="M910.700 656.800H933.100L927.400 669.700H921.400L924.500 662.700H907.900Z"/>
<path d="M941.600 645.800H948.400L939.600 664.800H933.300Z"/>
<path d="M960.600 645.300H967.750L953.300 676.500H930.600L933.800 670.200H949.600Z"/>
<circle cx="979.500" cy="653.400" r="5.700"/>
<circle cx="1001.900" cy="653.400" r="5.700"/>
<path d="M963.800 675.600A15.900 15.400 0 0 1 995.600 675.600Z"/>
<path d="M985.800 675.600A15.900 15.400 0 0 1 1017.600 675.600Z"/>
<path d="M985.800 675.600C986.200 671 988 667.400 990.900 664.600C993.600 667.400 995.300 671 995.600 675.600Z" fill="#8a8a8a" stroke="#ceebfe" stroke-width=".7"/>
</g>

<g id="txt">
<text x="78.9" y="127.2" font-size="45" textLength="881" lengthAdjust="spacingAndGlyphs">外国人特化の転職エージェントの上手な活用方法</text>
<text x="91.1" y="191.7" font-size="34" textLength="201.3" lengthAdjust="spacingAndGlyphs">【複数登録】</text>
<text x="77.3" y="226.2" font-size="33" textLength="227.5" lengthAdjust="spacingAndGlyphs">選択肢を広げる</text>
<text x="47.4" y="252.8" font-size="19.2" textLength="284.4" lengthAdjust="spacingAndGlyphs">複数のエージェントに登録し、より多くの</text>
<text x="40.3" y="273.7" font-size="20" textLength="306.6" lengthAdjust="spacingAndGlyphs">求人情報や異なる視点のアドバイスを得る。</text>
<text x="413.4" y="191.8" font-size="34" textLength="199.1" lengthAdjust="spacingAndGlyphs">【希望伝達】</text>
<text x="385.4" y="226.2" font-size="33" textLength="255.5" lengthAdjust="spacingAndGlyphs">条件を明確にする</text>
<text x="364.7" y="252.8" font-size="19.4" textLength="294.7" lengthAdjust="spacingAndGlyphs">希望する職種、勤務地、年収、ビザの条件</text>
<text x="367.7" y="273.7" font-size="20" textLength="298.4" lengthAdjust="spacingAndGlyphs">などを具体的に伝え、ミスマッチを防ぐ。</text>
<text x="734.5" y="191.3" font-size="34" textLength="205.6" lengthAdjust="spacingAndGlyphs">【積極活用】</text>
<text x="708.5" y="226.4" font-size="33" textLength="259" lengthAdjust="spacingAndGlyphs">選考対策を受ける</text>
<text x="697.4" y="252.8" font-size="19.2" textLength="278" lengthAdjust="spacingAndGlyphs">応募書類の添削や模擬面接など、プロの</text>
<text x="686.6" y="273.7" font-size="19.6" textLength="309.1" lengthAdjust="spacingAndGlyphs">サポートを積極的に受け、選考通過率を高める。</text>
<text x="73.4" y="330.2" font-size="16.5" textLength="28" lengthAdjust="spacingAndGlyphs">A社</text>
<text x="78.7" y="486.1" font-size="7.2" textLength="12.4" lengthAdjust="spacingAndGlyphs" style="fill:#1c3641">JOB</text>
<text x="174.6" y="309.3" font-size="17" textLength="26.5" lengthAdjust="spacingAndGlyphs">B社</text>
<text x="274" y="331.3" font-size="16" textLength="27.3" lengthAdjust="spacingAndGlyphs">C社</text>
<text x="495.3" y="359.5" font-size="14" textLength="45.7" lengthAdjust="spacingAndGlyphs">職種:IT</text>
<text x="495.3" y="384.3" font-size="14.5" textLength="72" lengthAdjust="spacingAndGlyphs">勤務地:東京</text>
<text x="495.3" y="408.7" font-size="14.5" textLength="83.4" lengthAdjust="spacingAndGlyphs">年収:600万〜</text>
<text x="495.3" y="432.9" font-size="14" textLength="29.9" lengthAdjust="spacingAndGlyphs">ビザ:</text>
<text x="495.3" y="450.4" font-size="13.8" textLength="83.4" lengthAdjust="spacingAndGlyphs">技術・人文・国際</text>
<text x="712.4" y="337.3" font-size="11.6" textLength="95.4" lengthAdjust="spacingAndGlyphs" style="fill:#1c2a33">履歴書・職務経歴書</text>
<text x="894.4" y="361.3" font-size="20" textLength="69.9" lengthAdjust="spacingAndGlyphs">模擬面接</text>
</g>
</svg>
<footer><span class="t" style="left:807px;top:644px;width:161px;height:33px;font-size:30px">ひとキャリ</span></footer>
</div>
</body>
</html>
